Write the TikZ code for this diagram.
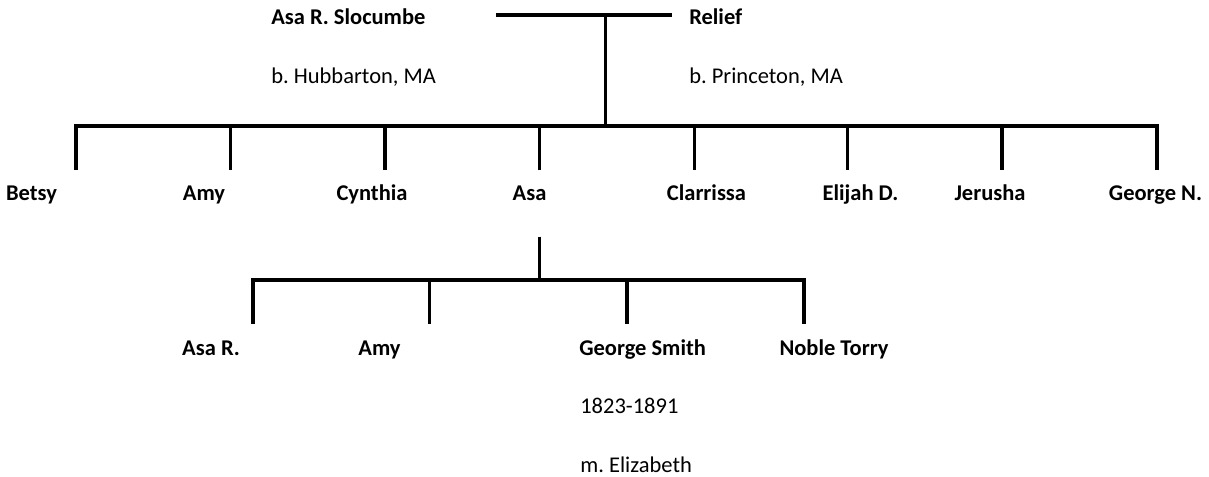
\documentclass[tikz,border=0pt]{standalone}
\usepackage{fontspec}
\setmainfont{Carlito}
\usepackage{tikz}
\usetikzlibrary{positioning,calc}
\frenchspacing
\tikzset{
    x=0.025cm,
    y=-0.025cm,
    person/.style = {
        inner sep=0pt,
        font=\fontsize{16}{19}\selectfont\bfseries
    },
    detail/.style = {
        inner sep=0pt,
        anchor=base west,
        font=\fontsize{16}{19}\selectfont
    },
    branch/.style = {
        draw,
        line width=2.3pt,
        black
    },
}
\begin{document}
\begin{tikzpicture}
            \useasboundingbox (0,0) rectangle (1209,476);

            % parents
            \node[person, anchor=base west] (slocumbe) at (271,24) {Asa R. Slocumbe};
            \node[detail] (hubbarton) at (271,83) {b. Hubbarton, MA};
            \node[person, anchor=base west] (relief) at (689,24) {Relief};
            \node[detail] (princeton) at (689,83) {b. Princeton, MA};

            \coordinate (wedL) at (496,15);
            \coordinate (wedR) at (672,15);
            \coordinate (wed) at (605.5,15);
            \coordinate (fam) at (605.5,126);

            \path[branch] (wedL) -- (wedR);
            \path[branch] (wed) -- (fam);

            % children
            \node[person, anchor=base] (betsy) at (31.5,200.5) {Betsy};
            \node[person, anchor=base] (amy) at (204,200.5) {Amy};
            \node[person, anchor=base] (cynthia) at (372,200.5) {Cynthia};
            \node[person, anchor=base] (asa) at (529.5,200.5) {Asa};
            \node[person, anchor=base] (clarrissa) at (706.5,200.5) {Clarrissa};
            \node[person, anchor=base] (elijah) at (860.5,200.5) {Elijah D.};
            \node[person, anchor=base] (jerusha) at (990,200.5) {Jerusha};
            \node[person, anchor=base] (georgen) at (1155.5,200.5) {George N.};

            \coordinate (betsyup) at (76,170);
            \coordinate (amyup) at (230.5,170);
            \coordinate (cynthiaup) at (385,170);
            \coordinate (asaup) at (539.5,170);
            \coordinate (clarrissaup) at (694.5,170);
            \coordinate (elijahup) at (847.5,170);
            \coordinate (jerushaup) at (1002,170);
            \coordinate (georgenup) at (1157,170);

            \path[branch] (betsyup) |- (fam) -| (georgenup);
            \path[branch] (amyup) -- (amyup |- fam);
            \path[branch] (cynthiaup) -- (cynthiaup |- fam);
            \path[branch] (asaup) -- (asaup |- fam);
            \path[branch] (clarrissaup) -- (clarrissaup |- fam);
            \path[branch] (elijahup) -- (elijahup |- fam);
            \path[branch] (jerushaup) -- (jerushaup |- fam);

            % grandchildren
            \node[person, anchor=base] (asar) at (211,355) {Asa R.};
            \node[person, anchor=base] (amyy) at (379.5,355) {Amy};
            \node[person, anchor=base west] (georges) at (579,355) {George Smith};
            \node[detail] (georgedates) at (580,413) {1823-1891};
            \node[detail] (georgewife) at (580,472) {m. Elizabeth};
            \node[person, anchor=base] (noble) at (834,355) {Noble Torry};

            \coordinate (asadown) at (539.5,236.7);
            \coordinate (kids) at (539.5,280);
            \coordinate (asarup) at (253,324);
            \coordinate (amyyup) at (429.5,324);
            \coordinate (georgesup) at (627,324);
            \coordinate (nobleup) at (804,324);

            \path[branch] (asadown) -- (kids);
            \path[branch] (asarup) |- (kids) -| (nobleup);
            \path[branch] (amyyup) -- (amyyup |- kids);
            \path[branch] (georgesup) -- (georgesup |- kids);

        \end{tikzpicture}
\end{document}
